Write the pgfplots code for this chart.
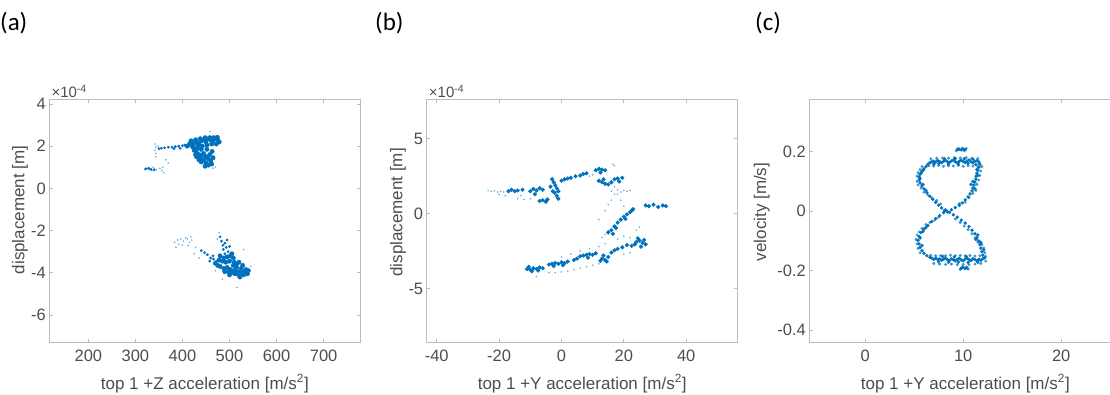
\documentclass[border=0pt]{standalone}
\usepackage{pgfplots}
\pgfplotsset{compat=1.18}
\usepackage{fontspec}
\setmainfont{Liberation Sans}
\newfontfamily\calibri{Carlito}
\definecolor{mblue}{HTML}{0072BD}
\definecolor{axgray}{HTML}{BDBDBD}
\definecolor{txtgray}{HTML}{4D4D4D}
\pgfplotsset{
  myax/.style={
    scale only axis, width=311pt, height=242.3pt, anchor=south west,
    axis line style={axgray, line width=0.9pt},
    tick align=inside, major tick length=3.5pt,
    tick style={axgray, line width=0.8pt},
    ticklabel style={font=\fontsize{16.5}{18}\selectfont, text=txtgray},
    xticklabel style={yshift=-4pt},
    label style={font=\fontsize{17}{19}\selectfont, text=txtgray},
    /pgf/number format/assume math mode=true,
    scaled ticks=false,
    xlabel style={at={(axis description cs:0.5,-0.172)}, anchor=center},
  },
  dense/.style={only marks, mark=*, color=mblue, mark size=#1},
  dense/.default=1.8pt,
  light/.style={only marks, mark=*, color=mblue!75, mark size=#1},
  sparse/.style={only marks, mark=*, color=mblue!55, mark size=0.6pt},
}
\begin{document}
\begin{tikzpicture}
\useasboundingbox (0pt,0pt) rectangle (1110pt,394pt);
\clip (0pt,0pt) rectangle (1110pt,394pt);
\node[anchor=west, inner sep=0, font=\calibri\fontsize{25}{28}\selectfont] at (0pt,370.5pt) {(a)};
\node[anchor=west, inner sep=0, font=\calibri\fontsize{25}{28}\selectfont] at (375pt,370.5pt) {(b)};
\node[anchor=west, inner sep=0, font=\calibri\fontsize{25}{28}\selectfont] at (755pt,370.5pt) {(c)};

% ---------------- (a)
\begin{axis}[myax, at={(49.3pt,52pt)},
  xmin=117, xmax=778, ymin=-7.28, ymax=4.2,
  xtick={200,300,400,500,600,700}, xticklabels={200,300,400,500,600,700},
  ytick={-6,-4,-2,0,2,4}, yticklabels={-6,-4,-2,0,2,4},
  xlabel={top 1 +Z acceleration [m/s\textsuperscript{2}]},
  ylabel={displacement [m]},
  ylabel style={at={(axis description cs:-0.094,0.545)}, anchor=center},
  after end axis/.code={\node[anchor=south west, inner sep=0, xshift=2pt, yshift=2pt, font=\fontsize{15}{17}\selectfont, text=txtgray] at (rel axis cs:0,1) {×10\textsuperscript{-4}};},
]
\addplot[sparse] coordinates {(342,2.1)(343,1.95)(342,1.8)(344,1.65)(343,1.5)(348,2.0)(459,2.69)(370,1.2)(365,1.35)(358,1.0)(352,0.95)(325,0.95)(330,0.9)(335,0.85)(340,0.92)(345,0.88)(320,0.9)(338,1.0)(356,0.85)(360,0.75)(470,1.0)(465,0.95)
(383,-2.55)(390,-2.45)(396,-2.4)(402,-2.5)(410,-2.4)(415,-2.55)(420,-2.45)(400,-2.7)(428,-2.8)(425,-3.1)(435,-3.3)(407,-2.35)(392,-2.65)(386,-2.8)(412,-2.7)(418,-2.3)(478,-2.1)(474,-2.4)(516,-4.7)(485,-4.3)(470,-3.9)(545,-3.7)(530,-2.9)};
\addplot[dense=1.2pt] coordinates {(350,1.88)(355,1.9)(362,1.92)(370,1.95)(378,1.95)(385,1.98)(392,2.0)(400,2.02)(405,2.05)(395,1.9)(382,1.88)(322,0.92)(328,0.95)(333,0.9)(340,0.88)
(480,-2.3)(483,-2.5)(486,-2.7)(490,-2.6)(487,-2.9)(493,-2.8)(497,-3.0)(490,-3.1)(500,-2.75)(495,-2.45)
(440,-2.95)(447,-3.05)(453,-3.15)(460,-3.3)(466,-3.35)(472,-3.45)(458,-3.45)(465,-3.2)};
\addplot[dense=2.2pt] coordinates {(410,2.0)(415,2.1)(420,2.05)(425,2.15)(430,2.2)(435,2.1)(440,2.25)(445,2.3)(450,2.2)(455,2.35)(460,2.3)(465,2.25)(470,2.35)(475,2.3)(478,2.2)(472,2.1)(462,2.1)(452,2.05)(442,2.0)(432,1.98)(422,1.95)(458,2.4)(448,2.4)(438,2.35)(428,2.3)(466,2.4)(474,2.42)(418,2.25)
(425,1.8)(430,1.7)(435,1.6)(440,1.55)(445,1.65)(450,1.5)(455,1.4)(445,1.35)(438,1.45)(430,1.5)(460,1.3)(450,1.2)(455,1.1)(462,1.15)(448,1.05)(440,1.25)(435,1.35)(428,1.6)(458,1.6)(465,1.45)(463,1.75)(452,1.85)(440,1.85)(432,1.9)
(480,-3.2)(488,-3.3)(495,-3.25)(502,-3.2)(508,-3.3)(505,-3.1)(510,-3.5)(500,-3.45)(492,-3.5)(485,-3.45)(478,-3.4)(515,-3.6)
(480,-3.7)(488,-3.8)(495,-3.75)(502,-3.85)(510,-3.9)(518,-3.95)(525,-4.0)(532,-3.95)(538,-4.05)(530,-4.1)(520,-4.1)(512,-4.05)(505,-4.0)(498,-3.95)(490,-3.95)(515,-3.75)(525,-3.8)(535,-3.85)(528,-3.65)(520,-3.5)(508,-3.65)(470,-3.55)(475,-3.65)(500,-4.1)(540,-3.9)(522,-4.2)};
\end{axis}

% ---------------- (b)
\begin{axis}[myax, at={(426.7pt,52pt)},
  xmin=-43.2, xmax=56.5, ymin=-8.58, ymax=7.62,
  xtick={-40,-20,0,20,40}, xticklabels={-40,-20,0,20,40},
  ytick={-5,0,5}, yticklabels={-5,0,5},
  xlabel={top 1 +Y acceleration [m/s\textsuperscript{2}]},
  ylabel={displacement [m]},
  ylabel style={at={(axis description cs:-0.092,0.535)}, anchor=center},
  after end axis/.code={\node[anchor=south west, inner sep=0, xshift=2pt, yshift=2pt, font=\fontsize{15}{17}\selectfont, text=txtgray] at (rel axis cs:0,1) {×10\textsuperscript{-4}};},
]
\addplot[sparse] coordinates {(-23.5,1.55)(-22.5,1.5)(-21.5,1.52)(-20.5,1.45)(-19.5,1.5)(-18.5,1.45)(-20,1.3)(-18,1.2)(-14,1.0)(-12,0.95)(-10,1.0)(-13,1.2)(18,1.6)(19,1.45)(20,1.55)(21,1.5)(22,1.55)(17,3.2)(16.5,3.3)(9,2.5)(10,2.6)(17,1.8)(18,1.3)(19,0.9)(20,0.5)(16,1.5)
(-4,-3.95)(-2,-3.95)(0,-3.9)(2,-3.85)(4,-3.75)(6,-3.65)(8,-3.55)(10,-3.45)(12,-3.35)(0,-2.9)(3,-2.7)(6,-2.5)(9,-2.35)(12,-2.2)(14,-2.0)(13,-1.6)(14,-1.4)(18,-1.7)(20,-1.5)(22,-1.6)(24,-1.1)(25,-0.9)(12,-0.4)(14,0.2)(15,0.6)(16,0.9)(17,1.3)(-8,-4.2)(20,-2.7)(22,-2.6)};
\addplot[dense=1.9pt] coordinates {(-17,1.5)(-16,1.6)(-15,1.5)(-14,1.55)(-12.5,1.6)
(-10,1.5)(-9,1.65)(-8,1.55)(-7,1.7)(-6,1.6)(-8.5,1.3)
(-7,0.85)(-6,0.9)(-5,0.8)(-4.5,0.95)
(-3,2.3)(-2.5,2.1)(-2,1.9)(-1.5,1.7)(-2.2,1.4)(-1.5,1.2)(-1,1.0)(-2.8,1.5)(-3.5,1.8)(-1,1.5)
(0,2.2)(1,2.3)(2,2.35)(3,2.4)(4.5,2.5)(6,2.55)(7,2.65)(8,2.7)
(11,2.9)(12,3.0)(13,2.95)(14,2.9)(12.5,2.75)
(12,2.2)(13,2.1)(14,2.0)(15,1.95)(16,2.1)(13.5,2.3)
(17,2.3)(18,2.35)(19.5,2.4)(18.5,2.15)
(-11,-3.7)(-10,-3.75)(-9,-3.65)(-8,-3.7)(-7,-3.6)(-6,-3.65)(-9.5,-3.85)(-7.5,-3.8)(-10.5,-3.55)
(-4,-3.4)(-3,-3.35)(-2,-3.3)(-1,-3.35)(0,-3.25)(1,-3.3)(2,-3.2)(-2.5,-3.5)(0.5,-3.45)
(4,-3.1)(5,-3.0)(6,-2.85)(7,-2.8)(8,-2.75)(9,-2.7)(10,-2.75)(11,-2.65)(8.5,-2.95)
(13,-3.0)(14,-3.1)(15,-2.9)(14.5,-3.2)(13.5,-2.8)(12.5,-3.15)
(16,-2.6)(17,-2.45)(18,-2.35)(19.5,-2.25)(21,-2.1)(22.5,-2.15)
(24,-1.9)(25,-1.8)(26,-1.95)(27,-2.05)(25.5,-2.2)(24.5,-1.65)(26.5,-1.75)(23.5,-2.05)
(15,-1.25)(16,-1.1)(17,-0.85)(18,-0.6)(19,-0.4)(20,-0.2)(21,-0.05)(22,0.1)(23,0.3)(22.5,0.2)(20.5,-0.35)(17.5,-0.95)(16.5,-1.35)
(27,0.55)(28,0.5)(29.5,0.6)(31,0.45)(32.5,0.55)(33.5,0.5)};
\end{axis}

% ---------------- (c)
\begin{axis}[myax, at={(809.3pt,52pt)}, width=320pt,
  axis y line*=left, y axis line style={-},
  xmin=-5.7, xmax=26.95, ymin=-0.44, ymax=0.375,
  xtick={0,10,20}, xticklabels={0,10,20},
  ytick={-0.4,-0.2,0,0.2}, yticklabels={-0.4,-0.2,0,0.2},
  xlabel={top 1 +Y acceleration [m/s\textsuperscript{2}]},
  xlabel style={at={(axis description cs:0.4875,-0.172)}, anchor=center},
  ylabel={velocity [m/s]},
  ylabel style={at={(axis description cs:-0.149,0.537)}, anchor=center},
]
\addplot[light=1.3pt] coordinates {
(6.5,0.153)(7.0,0.152)(7.5,0.154)(8.0,0.151)(8.5,0.153)(9.0,0.152)(9.5,0.154)(10.0,0.151)(10.5,0.153)(11.0,0.152)(11.5,0.150)
(6.7,0.176)(7.3,0.178)(7.9,0.179)(8.5,0.178)(9.1,0.180)(9.7,0.179)(10.3,0.180)(10.9,0.178)(11.5,0.177)
(5.3,0.118)(5.4,0.130)(5.6,0.140)(5.8,0.150)(5.3,0.100)(5.4,0.088)(5.7,0.078)(6.0,0.064)(6.4,0.055)(6.8,0.045)(7.3,0.036)(7.7,0.024)
(11.9,0.150)(11.8,0.135)(11.7,0.120)(11.6,0.105)(11.4,0.090)(11.3,0.070)(11.0,0.060)(10.6,0.045)(10.2,0.030)(9.6,0.025)
(5.2,-0.095)(5.3,-0.110)(5.4,-0.125)(5.6,-0.140)(5.3,-0.080)(5.5,-0.070)(5.8,-0.058)(6.2,-0.045)(6.6,-0.038)(7.1,-0.030)(7.5,-0.020)
(6.7,-0.148)(7.2,-0.150)(7.7,-0.149)(8.2,-0.150)(8.7,-0.148)(9.2,-0.150)(9.7,-0.149)(10.2,-0.150)(10.7,-0.149)(11.2,-0.151)(11.7,-0.150)
(7.0,-0.176)(7.6,-0.178)(8.2,-0.179)(8.8,-0.178)(9.4,-0.180)(10.0,-0.179)(10.6,-0.180)(11.2,-0.178)(11.8,-0.176)(12.3,-0.168)
(9.2,-0.026)(9.7,-0.038)(10.1,-0.050)(10.5,-0.062)(10.9,-0.076)(11.2,-0.090)(11.5,-0.104)(11.9,-0.112)(12.1,-0.124)(12.2,-0.140)(12.3,-0.152)
(9.3,0.203)(9.5,0.211)(9.9,0.212)(10.1,0.203)(10.3,0.211)(9.7,-0.196)(9.9,-0.187)(10.3,-0.187)(10.5,-0.195)};
\addplot[dense=1.5pt] coordinates {
(6.4,0.158)(6.6,0.163)(6.8,0.166)(7.0,0.168)(7.2,0.165)(7.4,0.170)(7.6,0.167)(7.8,0.163)(8.0,0.168)(8.2,0.171)(8.4,0.166)(8.6,0.164)(8.8,0.169)(9.0,0.172)(9.2,0.166)(9.4,0.163)(9.6,0.168)(9.8,0.171)(10.0,0.167)(10.2,0.164)(10.4,0.169)(10.6,0.172)(10.8,0.166)(11.0,0.163)(11.2,0.168)(11.4,0.170)(11.6,0.165)
(7.0,0.158)(7.5,0.160)(8.5,0.158)(9.5,0.158)(10.5,0.160)(11.3,0.157)(8.1,0.176)(9.2,0.177)(10.1,0.176)(11.0,0.175)
(6.2,0.150)(6.0,0.142)(5.8,0.133)(5.6,0.124)(5.5,0.115)(5.5,0.105)(5.6,0.095)(5.8,0.085)(6.0,0.075)(6.3,0.062)(6.6,0.050)(6.9,0.040)(7.2,0.030)(7.5,0.020)(7.8,0.011)(8.1,0.003)
(5.7,0.128)(5.9,0.138)(5.6,0.110)(5.9,0.090)(6.2,0.070)
(11.7,0.158)(11.6,0.148)(11.5,0.138)(11.4,0.128)(11.3,0.118)(11.3,0.108)(11.2,0.098)(11.1,0.088)(11.0,0.078)(10.9,0.068)(10.7,0.058)(10.5,0.048)(10.2,0.038)(9.9,0.028)(9.6,0.020)(9.2,0.012)(8.8,0.005)
(11.5,0.120)(11.0,0.100)(11.2,0.075)(10.8,0.090)(11.4,0.140)
(8.0,-0.005)(7.6,-0.015)(7.2,-0.025)(6.8,-0.035)(6.4,-0.048)(6.0,-0.060)(5.7,-0.072)(5.5,-0.085)(5.4,-0.098)(5.5,-0.110)(5.6,-0.122)(5.8,-0.133)(6.0,-0.142)(6.3,-0.150)(6.6,-0.155)
(5.6,-0.090)(5.8,-0.115)(6.2,-0.055)(5.9,-0.068)
(6.8,-0.158)(7.0,-0.162)(7.2,-0.158)(7.4,-0.163)(7.6,-0.160)(7.8,-0.165)(8.0,-0.161)(8.2,-0.158)(8.4,-0.163)(8.6,-0.166)(8.8,-0.160)(9.0,-0.163)(9.2,-0.167)(9.4,-0.162)(9.6,-0.159)(9.8,-0.164)(10.0,-0.167)(10.2,-0.161)(10.4,-0.158)(10.6,-0.163)(10.8,-0.166)(11.0,-0.160)(11.2,-0.163)(11.4,-0.167)(11.6,-0.162)(11.8,-0.165)(12.0,-0.160)(12.2,-0.157)
(7.5,-0.170)(8.5,-0.172)(9.5,-0.171)(10.5,-0.172)(11.5,-0.172)(7.9,-0.152)(9.1,-0.153)(10.3,-0.152)
(8.6,-0.004)(9.0,-0.012)(9.4,-0.020)(9.8,-0.030)(10.2,-0.040)(10.6,-0.052)(10.9,-0.064)(11.2,-0.076)(11.4,-0.088)(11.6,-0.100)(11.7,-0.112)(11.8,-0.124)(11.9,-0.136)(12.0,-0.148)
(11.5,-0.080)(11.8,-0.105)(11.3,-0.095)(12.1,-0.130)
(8.3,0.0)(8.4,-0.002)(8.2,0.004)
(9.4,0.207)(9.6,0.208)(9.8,0.206)(10.0,0.209)(10.2,0.207)
(9.8,-0.192)(10.0,-0.190)(10.2,-0.193)(10.4,-0.191)};
\end{axis}
\end{tikzpicture}
\end{document}
